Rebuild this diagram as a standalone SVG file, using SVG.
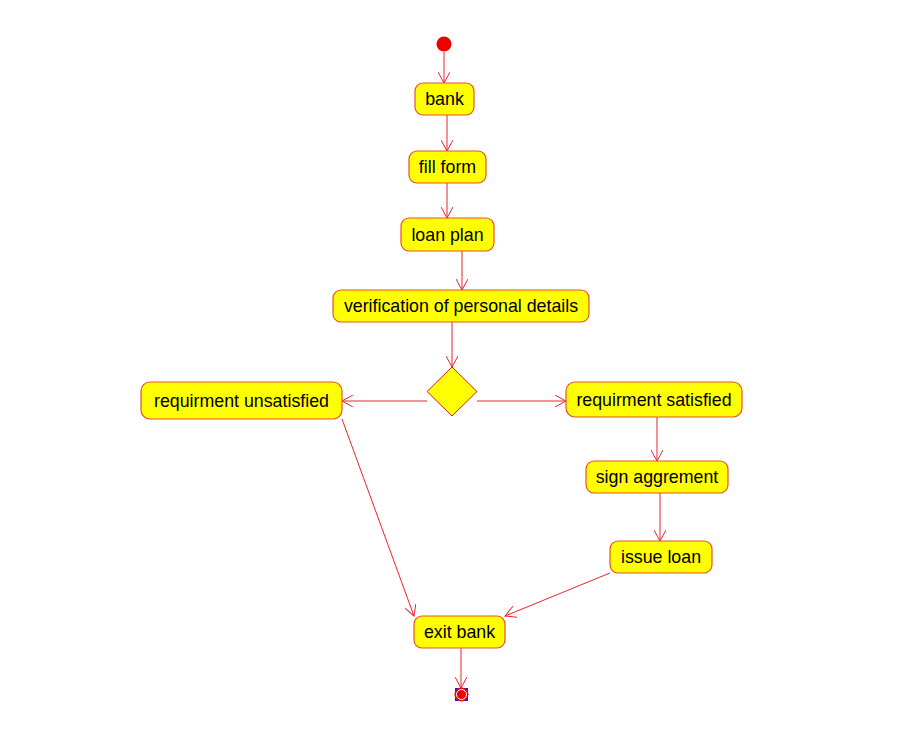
<svg xmlns="http://www.w3.org/2000/svg" width="902" height="731" viewBox="0 0 902 731">
  <style>
    .act rect { fill: #ffff00; stroke: #e8502a; stroke-width: 1.2; }
    .act text { font-family: "Liberation Sans", Arial, sans-serif; font-size: 17.8px; fill: #000; text-anchor: middle; dominant-baseline: central; }
    .edge { stroke: #e8252d; stroke-width: 1; fill: none; marker-end: url(#arrow); }
  </style>
  <defs>
    <marker id="arrow" viewBox="0 0 12 12" refX="11" refY="6" markerWidth="12" markerHeight="12" markerUnits="userSpaceOnUse" orient="auto">
      <path d="M0,0 L11,6 L0,12" fill="none" stroke="#e8252d" stroke-width="1"/>
    </marker>
  </defs>
  <rect width="902" height="731" fill="#ffffff"/>

  <g id="connectors">
    <line class="edge" x1="444" y1="52" x2="444" y2="83"/>
    <line class="edge" x1="447" y1="115" x2="447" y2="151"/>
    <line class="edge" x1="447" y1="183" x2="447" y2="218"/>
    <line class="edge" x1="462" y1="251" x2="462" y2="290"/>
    <line class="edge" x1="452" y1="322" x2="452" y2="367"/>
    <line class="edge" x1="427" y1="401" x2="342" y2="401"/>
    <line class="edge" x1="477" y1="401" x2="566" y2="401"/>
    <line class="edge" x1="657" y1="417" x2="657" y2="461"/>
    <line class="edge" x1="660" y1="493" x2="660" y2="541"/>
    <line class="edge" x1="342" y1="419" x2="414" y2="616"/>
    <line class="edge" x1="610" y1="573" x2="505" y2="616"/>
    <line class="edge" x1="461" y1="648" x2="461" y2="688"/>
  </g>

  <g id="start">
    <circle cx="444" cy="44" r="7.5" fill="#ee0000"/>
  </g>

  <g id="bank" class="act">
    <rect x="415" y="83" width="59" height="32" rx="8"/>
    <text x="444.5" y="99">bank</text>
  </g>
  <g id="fill-form" class="act">
    <rect x="409" y="151" width="77" height="32" rx="8"/>
    <text x="447.5" y="167">fill form</text>
  </g>
  <g id="loan-plan" class="act">
    <rect x="401" y="218" width="93" height="33" rx="8"/>
    <text x="447.5" y="235">loan plan</text>
  </g>
  <g id="verification" class="act">
    <rect x="333" y="290" width="256" height="32" rx="8"/>
    <text x="461" y="306">verification of personal details</text>
  </g>

  <g id="decision">
    <polygon points="452,367 477,391.5 452,416 427,391.5" fill="#ffff00" stroke="#d02020" stroke-width="1"/>
  </g>

  <g id="unsatisfied" class="act">
    <rect x="141" y="382" width="201" height="37" rx="9"/>
    <text x="241.5" y="400.5">requirment unsatisfied</text>
  </g>
  <g id="satisfied" class="act">
    <rect x="566" y="382" width="176" height="35" rx="9"/>
    <text x="654" y="399.5">requirment satisfied</text>
  </g>
  <g id="sign-aggrement" class="act">
    <rect x="586" y="461" width="142" height="32" rx="8"/>
    <text x="657" y="477">sign aggrement</text>
  </g>
  <g id="issue-loan" class="act">
    <rect x="610" y="541" width="102" height="32" rx="8"/>
    <text x="661" y="557">issue loan</text>
  </g>
  <g id="exit-bank" class="act">
    <rect x="414" y="616" width="91" height="32" rx="8"/>
    <text x="459.5" y="632">exit bank</text>
  </g>

  <g id="end">
    <rect x="455" y="688" width="13" height="13" fill="#1a1aff"/>
    <circle cx="461.5" cy="694.5" r="7" fill="#ee0000"/>
    <circle cx="461.5" cy="694.5" r="5" fill="none" stroke="#ffffff" stroke-width="1"/>
  </g>
</svg>
